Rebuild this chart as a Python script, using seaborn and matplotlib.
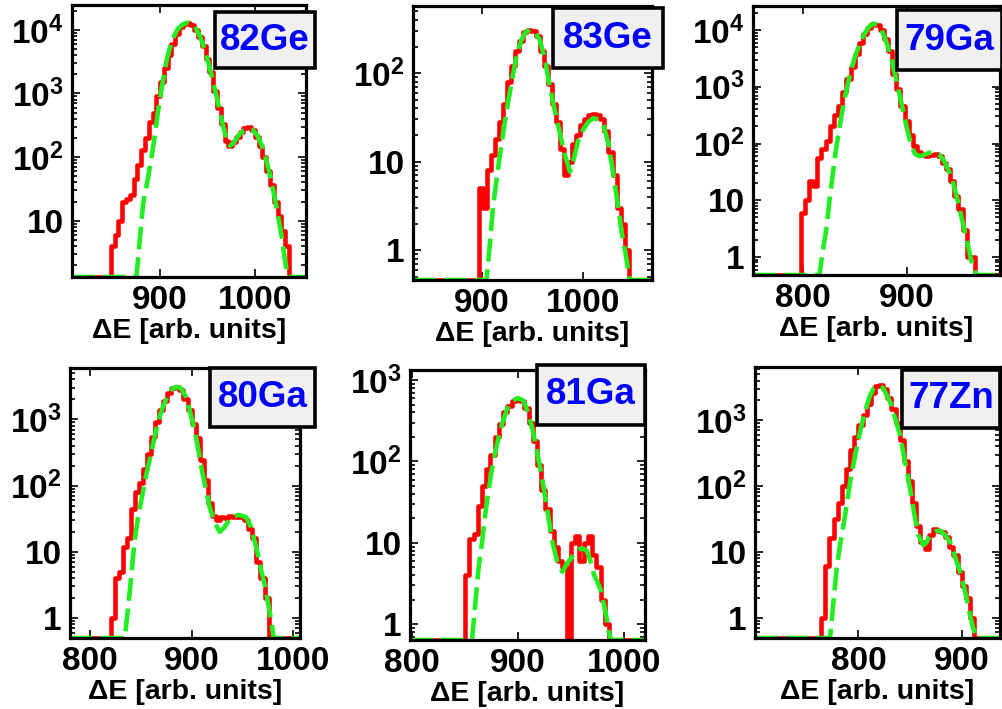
import numpy as np
import pandas as pd
import seaborn as sns
import matplotlib
matplotlib.use("Agg")
import matplotlib.pyplot as plt
from matplotlib.ticker import FixedLocator, FuncFormatter, LogLocator, NullFormatter
from matplotlib.patches import Rectangle

# ---------------- data ----------------
nuclei = ["82Ge", "83Ge", "79Ga", "80Ga", "81Ga", "77Zn"]
bin_width = 4

# histogram: first bin edge + counts per 4-unit bin
h1_start = 848
h1_counts = [4, 6, 10, 20, 22, 25, 45, 75, 130, 200, 350, 500, 900, 1500, 2500, 4000,
             6000, 8500, 11000, 12500, 13000, 12000, 10000, 7800, 5500, 3500, 2200, 1100,
             600, 330, 180, 150, 170, 210, 250, 285, 295, 270, 210, 150, 100, 60, 36, 20,
             12, 7, 4]
h2_start = 897
h2_counts = [5, 3, 8, 12, 18, 28, 45, 80, 120, 180, 230, 290, 310, 300, 260, 180, 120, 75,
             45, 28, 14, 7, 10, 16, 20, 26, 30, 34, 35, 34, 30, 22, 13, 7, 3, 2, 1]
h3_start = 798
h3_counts = [6, 10, 22, 18, 55, 80, 110, 200, 320, 450, 800, 1400, 2200, 3800, 6000, 8500,
             11000, 13000, 12500, 10000, 7000, 4200, 1700, 900, 450, 250, 140, 90, 70, 62,
             60, 62, 65, 60, 45, 35, 22, 12, 7, 3, 1, 1]
h4_start = 820
h4_counts = [1, 4, 5, 12, 16, 45, 80, 110, 180, 300, 550, 900, 1400, 1900, 2500, 3000, 3100,
             2800, 2000, 1400, 850, 520, 240, 120, 55, 35, 30, 33, 32, 35, 34, 34, 33, 30,
             22, 16, 7, 4, 2]
h5_start = 850
h5_counts = [4, 11, 13, 28, 50, 80, 120, 200, 290, 400, 480, 560, 590, 560, 460, 300, 180,
             90, 45, 26, 14, 9, 6, 5, 0, 10, 12, 6, 10, 12, 7, 5, 2, 1]
h6_start = 764
h6_counts = [1, 6, 16, 32, 55, 100, 180, 350, 550, 850, 1200, 1800, 2600, 3300, 3400, 3000,
             2200, 1500, 900, 500, 240, 120, 55, 25, 14, 11, 18, 22, 21, 20, 17, 12, 9, 5,
             3, 2, 1]

f1_x = [875, 878, 882, 887, 891, 895, 898, 902, 907, 912, 918, 924, 930, 936, 942, 948, 954,
        960, 966, 971, 974, 978, 983, 988, 993, 998, 1003, 1008, 1013, 1018, 1023, 1028,
        1032, 1035]
f1_y = [1.3, 4, 18, 45, 100, 250, 550, 1300, 3400, 6500, 10000, 12300, 13000, 11800, 8000,
        4500, 2000, 850, 330, 170, 150, 170, 220, 260, 280, 265, 215, 145, 80, 38, 16, 6,
        2.3, 1.3]
f2_x = [904.6, 908, 911, 916, 921, 926, 931, 935, 939, 943, 947.5, 952, 957, 962, 967, 972,
        977, 982, 987, 991, 995, 1000, 1005, 1010, 1015, 1020, 1025, 1030, 1034, 1038, 1042,
        1046]
f2_y = [0.46, 1.2, 3.1, 8.5, 21, 48, 100, 170, 235, 290, 310, 295, 240, 150, 71, 38, 21, 12,
        7.7, 11, 17, 23, 28, 31, 30, 26, 16, 7, 3.4, 1.6, 0.9, 0.46]
f3_x = [816, 819, 823, 826, 829, 832, 836, 840, 845, 850, 855, 860, 864, 868, 872, 876, 881,
        886, 891, 896, 900, 904, 908, 912, 916, 921, 926, 931, 936, 941, 945, 950, 955, 958,
        962, 966, 968]
f3_y = [0.48, 1.2, 3.4, 11, 30, 80, 225, 600, 1500, 3300, 5800, 9000, 11500, 13000, 12500,
        10000, 5800, 2800, 1100, 430, 195, 100, 66, 60, 62, 68, 71, 65, 50, 32, 20, 8.5, 3.4,
        2, 0.9, 0.55, 0.48]
f4_x = [834, 837, 839.3, 843.6, 847, 850.8, 855, 859, 863, 867, 872, 877, 881, 885, 890, 895,
        899, 903.3, 906.5, 909.8, 914, 918, 923, 927.8, 932, 937, 941, 946, 950, 954, 958,
        962, 965.6, 969, 973, 976, 978.7, 981]
f4_y = [0.5, 1.3, 2.8, 14, 32, 65, 140, 260, 500, 920, 1600, 2330, 2900, 3100, 2900, 2100,
        1200, 650, 360, 182, 90, 46, 27, 20, 23, 30, 34, 36, 35, 33, 25, 15, 9, 5, 2.8, 1.5,
        0.9, 0.5]
f5_x = [856.6, 860, 862.8, 866, 869, 872, 875, 878, 881.4, 885, 890, 895, 900, 905, 909.3,
        914, 918.6, 923, 928, 932, 937, 942, 946, 949.6, 955, 960.5, 965, 968, 972, 977.5,
        981, 983.7, 986, 988]
f5_y = [0.64, 2, 5, 10, 22, 42, 75, 120, 190, 290, 450, 560, 600, 560, 410, 240, 120, 60, 24,
        11, 5.9, 4.4, 5.5, 6.3, 8, 8.6, 8, 6.3, 4, 2.8, 1.8, 1.2, 0.8, 0.64]
f6_x = [772.6, 776, 779, 782, 785.5, 789, 792, 797, 801.6, 806, 811.3, 815, 819.4, 824, 830.7,
        835, 840.4, 845, 850, 854, 858, 862.9, 866, 869.3, 874, 879, 884, 888.7, 893, 898.4,
        903, 908, 911, 914.5]
f6_y = [0.49, 1.8, 5.6, 12, 25, 55, 115, 300, 665, 1300, 2400, 3100, 3400, 3100, 1900, 1150,
        590, 240, 91, 38, 18, 12.6, 14, 18, 20.5, 21, 18, 14, 9, 5, 2.6, 1.1, 0.7, 0.49]

x_limits = [(807, 1054), (832, 1068), (752, 990), (780, 1007), (798, 1020), (700, 937)]
y_limits = [(1.3, 24600), (0.46, 575), (0.48, 26600), (0.5, 5950), (0.64, 1330), (0.49, 6460)]
x_ticks = [[900, 1000], [900, 1000], [800, 900], [800, 900, 1000], [800, 900, 1000], [800, 900]]
x_label = "\u0394E [arb. units]"

hist_starts = [h1_start, h2_start, h3_start, h4_start, h5_start, h6_start]
hist_counts = [h1_counts, h2_counts, h3_counts, h4_counts, h5_counts, h6_counts]
fit_xs = [f1_x, f2_x, f3_x, f4_x, f5_x, f6_x]
fit_ys = [f1_y, f2_y, f3_y, f4_y, f5_y, f6_y]

# ---------------- style ----------------
sns.set_style("ticks")
plt.rcParams["font.family"] = ["Liberation Sans", "DejaVu Sans"]
plt.rcParams["font.weight"] = "bold"
plt.rcParams["text.color"] = "black"
plt.rcParams["axes.labelcolor"] = "black"
plt.rcParams["mathtext.fontset"] = "custom"
plt.rcParams["mathtext.rm"] = "Liberation Sans:bold"
plt.rcParams["mathtext.bf"] = "Liberation Sans:bold"
plt.rcParams["mathtext.it"] = "Liberation Sans:bold"
plt.rcParams["mathtext.default"] = "rm"

W, H = 1003, 709
fig = plt.figure(figsize=(W / 100, H / 100), dpi=100)

# axes frames in pixels (left, top, right, bottom)
frames = [(72, 5, 306, 277), (413, 6, 652, 280), (753, 6, 1000, 275),
          (70, 368, 300, 638), (410, 370, 645, 640), (755, 367, 1000, 638)]
boxes = [(215, 12, 315, 68), (553, 8, 663, 68), (897, 10, 1002, 70),
         (210, 368, 315, 427), (537, 365, 645, 425), (902, 370, 1000, 428)]


def ylab(v, pos):
    e = int(round(np.log10(v)))
    if e == 0:
        return "1"
    if e == 1:
        return "10"
    return r"$10^{%d}$" % e


for i in range(6):
    l, t, r, b = frames[i]
    ax = fig.add_axes([l / W, 1 - b / H, (r - l) / W, (b - t) / H])
    ax.set_yscale("log")
    y0, y1 = y_limits[i]
    x0, x1 = x_limits[i]

    counts = np.asarray(hist_counts[i], dtype=float)
    edges = hist_starts[i] + bin_width * np.arange(len(counts) + 1)
    xs = np.concatenate([[x0], edges, [x1]])
    ys = np.concatenate([[0], counts, [0, 0]])
    ys = np.clip(ys, y0, None)
    df_h = pd.DataFrame({"E": xs, "N": ys})
    sns.lineplot(data=df_h, x="E", y="N", ax=ax, color="#ff0000", lw=3.3,
                 drawstyle="steps-post", sort=False, estimator=None, zorder=3)

    fx = np.concatenate([[x0], fit_xs[i], [x1]])
    fy = np.clip(np.concatenate([[0], fit_ys[i], [0]]), y0, None)
    df_f = pd.DataFrame({"E": fx, "N": fy})
    sns.lineplot(data=df_f, x="E", y="N", ax=ax, color="#22ee22", lw=3.3,
                 sort=False, estimator=None, zorder=4)
    ax.lines[-1].set_dashes([5.0, 1.7])

    ax.set_xlim(x0, x1)
    ax.set_ylim(y0, y1)
    ax.xaxis.set_major_locator(FixedLocator(x_ticks[i]))
    decades = [10.0 ** k for k in range(-1, 6) if y0 <= 10.0 ** k <= y1]
    ax.yaxis.set_major_locator(FixedLocator(decades))
    ax.yaxis.set_major_formatter(FuncFormatter(ylab))
    ax.yaxis.set_minor_locator(LogLocator(base=10, subs=np.arange(2, 10), numticks=20))
    ax.yaxis.set_minor_formatter(NullFormatter())
    ax.tick_params(axis="both", which="both", direction="in", top=True, right=True,
                   colors="black", labelsize=24, width=1.2)
    ax.tick_params(axis="both", which="major", length=6, pad=6)
    ax.tick_params(axis="y", which="minor", length=3.5)
    ax.tick_params(axis="x", which="minor", bottom=False, top=False)
    for lab in ax.get_xticklabels() + ax.get_yticklabels():
        lab.set_fontweight("bold")
        lab.set_color("black")
    for sp in ax.spines.values():
        sp.set_linewidth(2.3)
        sp.set_color("black")
        sp.set_zorder(5)
    ax.set_xlabel(x_label, fontsize=20.5, fontweight="bold", labelpad=1, color="black")
    ax.set_ylabel("")
    ax.set_facecolor("white")

    bl, bt, br, bb = boxes[i]
    rect = Rectangle((bl / W, 1 - bb / H), (br - bl) / W, (bb - bt) / H,
                     transform=fig.transFigure, facecolor="#f0f0f0", edgecolor="black",
                     lw=2.6, zorder=10)
    fig.add_artist(rect)
    fig.text((bl + br) / 2 / W, 1 - (bt + bb) / 2 / H, nuclei[i], color="#0000ff",
             fontsize=26.5, fontweight="bold", ha="center", va="center", zorder=11)

fig.savefig("out.png", dpi=100)
